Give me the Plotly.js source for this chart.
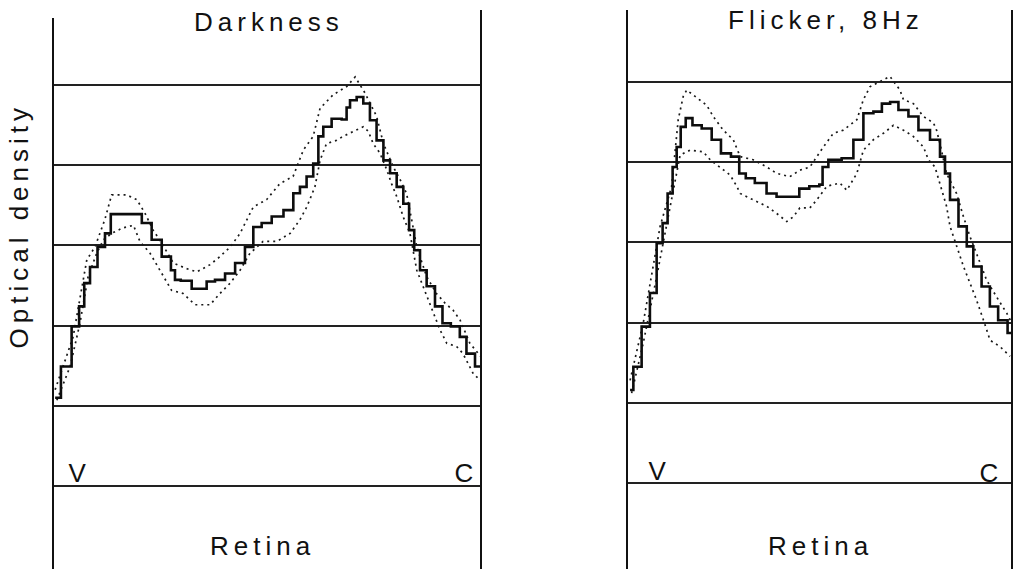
<!DOCTYPE html>
<html>
<head>
<meta charset="utf-8">
<script src="https://cdn.plot.ly/plotly-3.0.1.min.js"></script>
<style>
  html, body { margin: 0; padding: 0; background: #fff; }
  #chart { width: 1017px; height: 569px; }
  .js-plotly-plot text.annotation-text { letter-spacing: 5px; }
</style>
</head>
<body>
<div id="chart"></div>
<script>
// ---- Data (x = position along retina, % of panel width; y = optical density in grid units) ----
const panelTitles = ["Darkness", "Flicker, 8Hz"];
const endLabels = ["V", "C"];
const xAxisLabel = "Retina";
const yAxisLabel = "Optical density";
const gridLevels = [0, 1, 2, 3, 4, 5];

// Darkness
const darkSolidX = [0.5,3.2,5.5,6.7,7.9,9.4,11.4,12.9,14.1,19.6,21.9,24.2,26.6,28.5,28.5,31.2,33.6,35.1,36.7,39.0,41.4,43.7,46.0,47.6,49.9,52.3,55.4,56.9,58.5,60.0,61.6,62.4,63.9,66.3,68.6,68.6,70.2,71.7,73.3,74.8,76.4,78.0,79.5,81.1,82.6,83.8,85.0,86.5,88.1,90.4,91.6,94.3,95.8,97.4,99.8];
const darkSolidY = [1.10,1.49,1.99,2.24,2.53,2.73,2.98,3.15,3.39,3.39,3.28,3.07,2.86,2.69,2.57,2.56,2.46,2.46,2.55,2.57,2.65,2.78,2.98,3.23,3.28,3.36,3.44,3.65,3.73,3.86,4.02,4.36,4.48,4.58,4.57,4.72,4.81,4.85,4.77,4.56,4.31,4.06,3.90,3.73,3.52,3.19,2.94,2.69,2.49,2.24,2.03,1.99,1.86,1.65,1.49];
const darkUpperX = [0.5,4.7,7.9,9.8,12.1,13.7,17.2,19.6,21.5,23.4,25.4,28.1,31.2,33.6,36.7,39.0,41.4,43.7,46.8,49.9,53.0,56.1,58.5,60.8,62.4,65.5,68.6,70.6,72.9,74.1,75.6,77.2,79.5,81.1,82.6,83.8,85.0,87.3,89.6,91.6,93.5,95.1,97.4,100];
const darkUpperY = [1.20,1.86,2.82,2.98,3.32,3.63,3.63,3.57,3.40,3.19,3.03,2.78,2.71,2.67,2.76,2.86,2.98,3.15,3.48,3.57,3.77,3.86,4.19,4.36,4.71,4.88,4.98,5.10,4.90,4.77,4.61,4.27,3.98,3.82,3.65,3.32,2.98,2.61,2.40,2.28,2.19,2.07,1.78,1.61];
const darkLowerX = [0.9,4.0,6.3,8.2,10.2,11.8,13.7,16.4,18.8,20.3,22.7,25.0,27.7,30.4,33.2,36.7,39.0,41.4,43.7,46.0,49.1,52.3,55.4,57.7,59.3,61.2,62.4,63.9,66.3,67.8,72.5,73.7,74.8,76.4,78.0,79.1,80.3,81.8,83.4,85.0,86.5,88.9,90.4,92.0,94.3,95.8,98.2,99.8];
const darkLowerY = [1.07,1.49,2.03,2.61,2.90,3.07,3.15,3.22,3.25,3.05,2.90,2.69,2.44,2.40,2.26,2.26,2.40,2.53,2.69,2.90,3.05,3.05,3.15,3.32,3.48,3.73,4.06,4.27,4.31,4.36,4.48,4.42,4.27,4.15,3.94,3.77,3.61,3.36,3.15,2.69,2.49,2.15,1.95,1.78,1.74,1.65,1.40,1.32];

// Flicker, 8Hz
const flickSolidX = [0.8,2.5,5.1,6.8,8.6,9.9,11.2,12.5,13.3,14.6,15.9,18.1,20.7,23.3,25.5,28.5,29.8,31.9,34.5,38.0,39.7,44.1,45.4,49.3,50.6,51.0,53.6,57.9,59.7,63.1,64.9,67.5,69.2,71.8,74.4,77.0,80.4,82.2,83.0,84.8,87.4,89.1,90.8,93.4,95.1,97.7,100];
const flickSolidY = [1.16,1.45,1.95,2.37,2.99,3.24,3.61,3.94,4.19,4.44,4.55,4.46,4.42,4.28,4.11,4.07,3.86,3.80,3.74,3.61,3.57,3.57,3.67,3.70,3.72,3.94,4.03,4.05,4.28,4.61,4.63,4.73,4.75,4.65,4.57,4.40,4.28,4.07,3.86,3.53,3.20,2.95,2.70,2.45,2.20,2.03,1.87];
const flickUpperX = [0.8,4.2,8.6,11.6,13.3,14.6,15.5,18.1,20.7,22.4,25.0,27.6,29.4,32.8,36.3,38.9,42.3,44.9,47.5,51.0,53.6,56.2,59.7,61.4,63.1,68.3,70.9,71.8,74.4,77.0,79.6,80.4,81.3,83.0,85.6,87.4,89.1,90.8,93.4,96.0,98.6,100];
const flickUpperY = [1.28,1.99,3.20,3.70,4.53,4.82,4.90,4.80,4.71,4.57,4.40,4.28,4.07,4.03,3.94,3.86,3.82,3.90,3.94,4.19,4.36,4.40,4.53,4.78,4.94,5.07,4.90,4.78,4.73,4.57,4.49,4.40,4.23,3.86,3.61,3.32,3.07,2.86,2.53,2.32,2.12,1.99];
const flickLowerX = [1.2,4.2,7.7,9.4,12.0,13.8,16.4,19.8,21.6,24.2,26.8,28.5,29.4,32.8,36.3,38.9,41.5,43.2,44.9,47.5,49.3,51.9,55.3,57.1,59.7,61.4,64.0,66.6,69.2,71.8,74.4,77.0,78.3,80.0,81.3,83.0,83.9,85.6,87.4,89.1,90.8,92.6,94.3,96.9,99.5];
const flickLowerY = [1.12,1.74,2.57,2.99,3.61,4.09,4.15,4.13,4.03,3.94,3.84,3.70,3.61,3.53,3.45,3.36,3.26,3.32,3.43,3.43,3.53,3.70,3.74,3.65,3.86,4.15,4.28,4.36,4.46,4.40,4.32,4.19,4.03,3.94,3.74,3.45,3.20,2.95,2.70,2.49,2.28,2.03,1.78,1.70,1.58];

// ---- Styles ----
const W = 1017, H = 569;
const FONT = "Liberation Sans, Arial, Helvetica, sans-serif";
const solidStyle = {color: "#0d0d0d", width: 2.6, shape: "hvh"};
const dotStyle = {color: "#1a1a1a", width: 1.7, dash: "2px,4px"};

function tr(x, y, xa, ya, line) {
  return {x: x, y: y, xaxis: xa, yaxis: ya, type: "scatter", mode: "lines",
          line: line, hoverinfo: "skip", showlegend: false};
}

const data = [
  tr(darkUpperX, darkUpperY, "x", "y", dotStyle),
  tr(darkLowerX, darkLowerY, "x", "y", dotStyle),
  tr(darkSolidX, darkSolidY, "x", "y", solidStyle),
  tr(flickUpperX, flickUpperY, "x2", "y2", dotStyle),
  tr(flickLowerX, flickLowerY, "x2", "y2", dotStyle),
  tr(flickSolidX, flickSolidY, "x2", "y2", solidStyle)
];

const px = v => v / W;
const py = v => 1 - v / H;

function xa(d) {
  return {domain: d, range: [0, 100], showgrid: false, zeroline: false,
          showticklabels: false, ticks: "", showline: false, fixedrange: true};
}
function ya(range, anchor) {
  return {domain: [0, 1], range: range, anchor: anchor, tickmode: "array",
          tickvals: gridLevels, showticklabels: false, ticks: "",
          showgrid: true, gridcolor: "#222", gridwidth: 2,
          zeroline: false, showline: false, fixedrange: true};
}

function ann(text, x, y, size, extra) {
  return Object.assign({text: text, x: x, y: y, xref: "paper", yref: "paper",
          xanchor: "center", yanchor: "middle", showarrow: false,
          font: {family: FONT, size: size, color: "#111"}}, extra || {});
}

const vline = (xref, xv, ytop) => ({type: "line", xref: xref, yref: "paper",
  x0: xv, x1: xv, y0: 0, y1: py(ytop), line: {color: "#111", width: 2}});

const layout = {
  width: W, height: H,
  margin: {l: 0, r: 0, t: 0, b: 0},
  paper_bgcolor: "#fff", plot_bgcolor: "#fff",
  showlegend: false,
  xaxis: xa([px(53), px(481)]),
  yaxis: ya([-83 / 80.2, 486 / 80.2], "x"),
  xaxis2: xa([px(627), px(1012)]),
  yaxis2: ya([-86 / 80.2, 483 / 80.2], "x2"),
  shapes: [
    vline("x domain", 0, 18), vline("x domain", 1, 10),
    vline("x2 domain", 0, 10), vline("x2 domain", 1, 10)
  ],
  annotations: [
    ann(panelTitles[0], px(269), py(22), 26),
    ann(panelTitles[1], px(826), py(20), 26),
    ann(endLabels[0], px(80), py(473), 26),
    ann(endLabels[1], px(466), py(473), 26),
    ann(endLabels[0], px(660), py(471), 26),
    ann(endLabels[1], px(991), py(473), 26),
    ann(xAxisLabel, px(263), py(545.5), 26),
    ann(xAxisLabel, px(821), py(545.5), 26),
    ann(yAxisLabel, px(19), py(226), 26, {textangle: -90})
  ]
};

Plotly.newPlot("chart", data, layout, {staticPlot: true, displayModeBar: false});
</script>
</body>
</html>
